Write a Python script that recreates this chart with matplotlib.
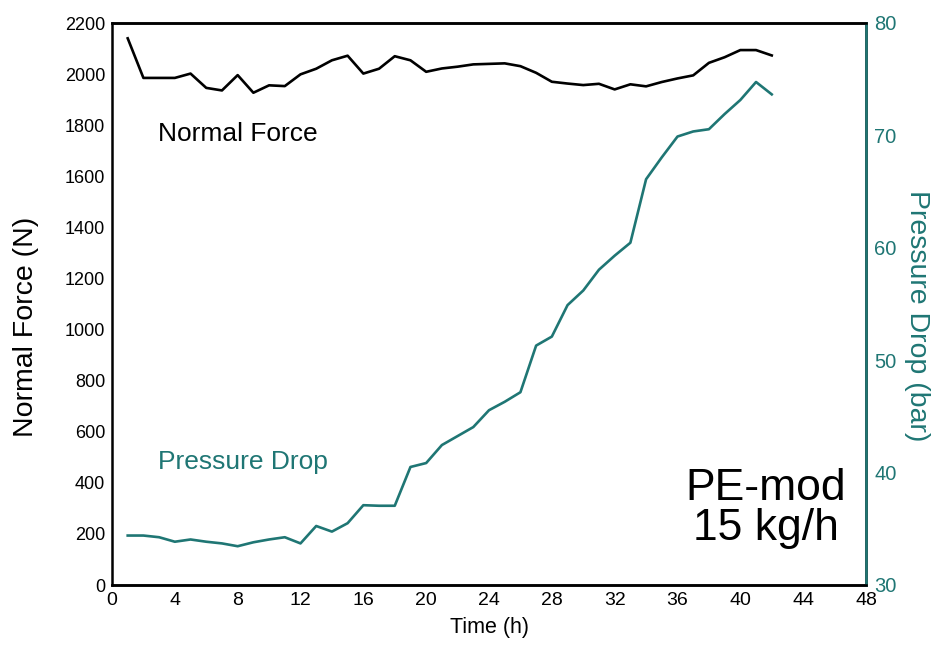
import matplotlib
matplotlib.use("Agg")
import matplotlib.pyplot as plt
from matplotlib import font_manager as fm

names = {f.name for f in fm.fontManager.ttflist}
base = "Liberation Sans" if "Liberation Sans" in names else "DejaVu Sans"
narrow = "Liberation Sans Narrow" if "Liberation Sans Narrow" in names else base
plt.rcParams['font.family'] = [base, 'DejaVu Sans']

time_h = list(range(1, 43))
normal_force = [2140, 1985, 1985, 1985, 2002, 1946, 1936, 1996, 1927, 1956,
                1953, 1999, 2021, 2054, 2072, 2002, 2021, 2070, 2054, 2009,
                2022, 2029, 2038, 2040, 2042, 2031, 2005, 1970, 1963, 1957,
                1962, 1940, 1960, 1952, 1969, 1983, 1995, 2044, 2066, 2094,
                2094, 2073]
pressure_drop = [34.4, 34.4, 34.25, 33.85, 34.05, 33.85, 33.7, 33.45, 33.8, 34.05,
                 34.25, 33.7, 35.25, 34.75, 35.5, 37.1, 37.05, 37.05, 40.5, 40.85,
                 42.45, 43.25, 44.05, 45.55, 46.3, 47.15, 51.3, 52.1, 54.9, 56.2,
                 58.05, 59.3, 60.45, 66.1, 68.05, 69.9, 70.35, 70.55, 71.9, 73.15,
                 74.75, 73.65]

x_ticks = list(range(0, 49, 4))
left_ticks = list(range(0, 2201, 200))
right_ticks = [30, 40, 50, 60, 70, 80]

teal = "#1f7674"

fig = plt.figure(figsize=(9.36, 6.52), dpi=100)
ax = fig.add_axes([112/936, 1-585/652, (866-112)/936, (585-23)/652])
ax2 = ax.twinx()

ax.plot(time_h, normal_force, color="black", lw=1.9)
ax2.plot(time_h, pressure_drop, color=teal, lw=1.9)

ax.set_xlim(0, 48)
ax.set_ylim(0, 2200)
ax2.set_ylim(30, 80)
ax.set_xticks(x_ticks)
ax.set_yticks(left_ticks)
ax2.set_yticks(right_ticks)

ax.tick_params(axis='both', length=0, labelsize=13, pad=5)
ax2.tick_params(axis='y', length=0, labelsize=14.5, colors=teal, pad=6)
for lab in ax.get_xticklabels():
    lab.set_fontfamily(narrow)
    lab.set_fontsize(14)

for s in ax.spines.values():
    s.set_linewidth(1.8)
for s in ax2.spines.values():
    s.set_linewidth(1.8)
ax2.spines['right'].set_color(teal)
ax2.spines['left'].set_visible(False)
ax2.spines['top'].set_color("black")

ax.set_xlabel("Time (h)", fontsize=15.5, fontfamily=narrow, labelpad=6)
ax.set_ylabel("Normal Force (N)", fontsize=20.5, va="center")
ax.yaxis.set_label_coords(-0.114, 0.46)
ax2.set_ylabel("Pressure Drop (bar)", fontsize=20.5, color=teal, rotation=270, va="center")
ax2.yaxis.set_label_coords(1.068, 0.48)

ax.text(2.9, 1766, "Normal Force", fontsize=19, color="black", va="center", ha="left")
ax.text(2.9, 480, "Pressure Drop", fontsize=19, color=teal, va="center", ha="left")
ax.text(41.6, 300, "PE-mod\n15 kg/h", fontsize=32, color="black", va="center", ha="center",
        linespacing=0.95)

fig.savefig("out.png", dpi=100)
